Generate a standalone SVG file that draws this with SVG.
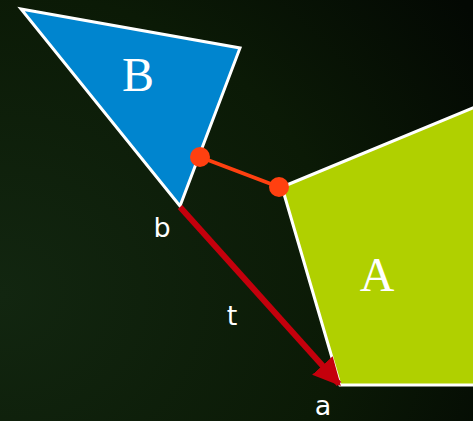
<svg xmlns="http://www.w3.org/2000/svg" width="473" height="421" viewBox="0 0 473 421">
<defs>
<radialGradient id="bg" cx="0" cy="0.7" r="1.2">
<stop offset="0" stop-color="#122610"/>
<stop offset="0.6" stop-color="#0b1a06"/>
<stop offset="1" stop-color="#030803"/>
</radialGradient>
<marker id="ah" viewBox="0 0 10 10" refX="9" refY="5" markerWidth="4.6" markerHeight="5" markerUnits="strokeWidth" orient="auto">
<path d="M0,0 L10,5 L0,10 Z" fill="#c4000c"/>
</marker>
<style>
.shape{stroke:#fff;stroke-width:3;stroke-linejoin:miter}
.big{font-family:"Liberation Serif",serif;font-size:48px;fill:#fff;text-anchor:middle}
.lbl{font-family:"DejaVu Sans","Liberation Sans",sans-serif;font-size:27px;fill:#fff;text-anchor:middle}
.dot{fill:#ff4010}
</style>
</defs>
<rect width="473" height="421" fill="url(#bg)"/>
<g id="A">
<polygon class="shape" points="282,187 475,107 475,385 340,385" fill="#b0d000"/>
<text class="big" x="377" y="291">A</text>
</g>
<g id="B">
<polygon class="shape" points="21,9 240,48 180,206" fill="#0085cf"/>
<text class="big" x="138" y="91">B</text>
</g>
<g id="connectors">
<line x1="180" y1="207" x2="339" y2="384" stroke="#c4000c" stroke-width="6" marker-end="url(#ah)"/>
<line x1="200" y1="157" x2="279" y2="187" stroke="#ff4010" stroke-width="4"/>
<circle class="dot" cx="200" cy="157" r="10"/>
<circle class="dot" cx="279" cy="187" r="10"/>
</g>
<g id="labels">
<text class="lbl" x="162" y="237">b</text>
<text class="lbl" x="232" y="325">t</text>
<text class="lbl" x="323" y="415">a</text>
</g>
</svg>
